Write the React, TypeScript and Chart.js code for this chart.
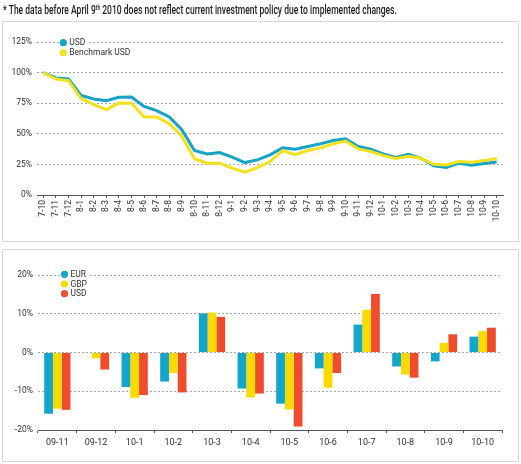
import React, { useEffect, useRef } from "react";
import { Chart, registerables } from "chart.js";
Chart.register(...registerables);

const FONT = "Roboto, 'Liberation Sans', sans-serif";

// ---- Top line chart data ----
const lineLabels = [
  "7-10", "7-11", "7-12",
  "8-1", "8-2", "8-3", "8-4", "8-5", "8-6", "8-7", "8-8", "8-9", "8-10", "8-11", "8-12",
  "9-1", "9-2", "9-3", "9-4", "9-5", "9-6", "9-7", "9-8", "9-9", "9-10", "9-11", "9-12",
  "10-1", "10-2", "10-3", "10-4", "10-5", "10-6", "10-7", "10-8", "10-9", "10-10",
];
const usdLine = [
  100, 95.6, 94.8,
  81.4, 78.4, 77, 79.8, 80, 72.4, 69, 63.7, 53.3, 36.3, 33.6, 34.7,
  30.9, 26.5, 28.7, 32.8, 38.5, 37.4, 39.6, 41.8, 44.5, 46, 39.6, 37.4,
  33.6, 30.6, 33.3, 30, 23.8, 22.4, 26, 24.3, 25.7, 27,
];
const benchmarkLine = [
  100, 94.8, 93.4,
  78.7, 73.8, 69.7, 75.1, 75, 63.7, 63.7, 58.2, 47.8, 29.6, 26, 26,
  21.9, 18.6, 22.4, 27.3, 36.3, 33, 36.3, 38.5, 41.8, 44, 37.7, 35.5,
  32.2, 29.8, 31.7, 30, 25.1, 24.6, 27.3, 26.8, 28.1, 29.8,
];
const lineSeriesNames = ["USD", "Benchmark USD"];
const lineColors = ["#16A3C6", "#F2E11C"];

// ---- Bottom bar chart data ----
const barLabels = ["09-11", "09-12", "10-1", "10-2", "10-3", "10-4", "10-5", "10-6", "10-7", "10-8", "10-9", "10-10"];
const eurBars = [-15.8, 0.1, -8.9, -7.5, 10.1, -9.3, -13.2, -4.1, 7.2, -3.6, -2.3, 4.1];
const gbpBars = [-14.5, -1.5, -11.7, -5.3, 10.3, -11.6, -14.7, -9.1, 11.0, -5.7, 2.5, 5.5];
const usdBars = [-14.8, -4.4, -11.0, -10.3, 9.2, -10.6, -19.1, -5.3, 15.1, -6.5, 4.7, 6.4];
const barSeriesNames = ["EUR", "GBP", "USD"];
const barColors = ["#13A6CA", "#F9DA00", "#EE4C2C"];

const headerText = "* The data before April 9";

function makeLegend(names: string[], colors: string[], dx: number, dy: number, gap: number) {
  return {
    id: "customLegend",
    afterDatasetsDraw(chart: any) {
      const ctx = chart.ctx;
      const a = chart.chartArea;
      ctx.save();
      ctx.font = `8.5px ${FONT}`;
      ctx.textBaseline = "middle";
      names.forEach((label, i) => {
        const cx = a.left + dx;
        const cy = a.top + dy + i * gap;
        const w = ctx.measureText(label).width;
        ctx.fillStyle = "#ffffff";
        ctx.fillRect(cx - 4, cy - 4.5, w + 14, 9);
        ctx.beginPath();
        ctx.arc(cx, cy, 3.6, 0, Math.PI * 2);
        ctx.fillStyle = colors[i];
        ctx.fill();
        ctx.fillStyle = "#333";
        ctx.fillText(label, cx + 6, cy + 0.5);
      });
      ctx.restore();
    },
  };
}

export default function App() {
  const topRef = useRef<HTMLCanvasElement>(null);
  const botRef = useRef<HTMLCanvasElement>(null);
  const headRef = useRef<HTMLDivElement>(null);

  useEffect(() => {
    const h = headRef.current;
    if (h) {
      const w = h.scrollWidth;
      if (w > 0) h.style.transform = `scaleX(${394 / w})`;
    }
    const tickFont = { family: FONT, size: 8.5 };
    const top = new Chart(topRef.current!, {
      type: "line",
      data: {
        labels: lineLabels,
        datasets: [
          {
            label: lineSeriesNames[0],
            data: usdLine,
            borderColor: lineColors[0],
            borderWidth: 3,
            pointRadius: 0,
            tension: 0,
            order: 1,
          },
          {
            label: lineSeriesNames[1],
            data: benchmarkLine,
            borderColor: lineColors[1],
            borderWidth: 3,
            pointRadius: 0,
            tension: 0,
            order: 0,
          },
        ],
      },
      options: {
        responsive: false,
        animation: false,
        layout: { padding: { left: 3, right: 18, top: 42, bottom: 10 } },
        plugins: { legend: { display: false }, tooltip: { enabled: false } },
        scales: {
          x: {
            offset: true,
            grid: { display: true, offset: false, drawOnChartArea: false, drawTicks: true, tickLength: 3, color: "#555" },
            border: { display: true, color: "#555", width: 1 },
            ticks: {
              autoSkip: false,
              maxRotation: 90,
              minRotation: 90,
              padding: 2,
              color: "#333",
              font: tickFont,
            },
            afterFit: (s: any) => {
              s.height = 40;
            },
          },
          y: {
            min: 0,
            max: 125,
            ticks: {
              stepSize: 25,
              padding: 5,
              color: "#333",
              font: tickFont,
              callback: (v: any) => v + "%",
            },
            grid: { color: "#a8a8a8", drawTicks: false, lineWidth: 1 },
            border: { display: false, dash: [2, 2] },
            afterFit: (s: any) => {
              s.width = 34;
            },
          },
        },
      },
      plugins: [makeLegend(lineSeriesNames, lineColors, 26.3, 0.7, 10)],
    } as any);

    const bot = new Chart(botRef.current!, {
      type: "bar",
      data: {
        labels: barLabels,
        datasets: [
          { label: barSeriesNames[0], data: eurBars, backgroundColor: barColors[0] },
          { label: barSeriesNames[1], data: gbpBars, backgroundColor: barColors[1] },
          { label: barSeriesNames[2], data: usdBars, backgroundColor: barColors[2] },
        ],
      },
      options: {
        responsive: false,
        animation: false,
        layout: { padding: { left: 3, right: 19, top: 30, bottom: 14 } },
        plugins: { legend: { display: false }, tooltip: { enabled: false } },
        datasets: { bar: { categoryPercentage: 0.68, barPercentage: 1.0 } },
        scales: {
          x: {
            grid: { display: true, offset: true, drawOnChartArea: false, drawTicks: true, tickLength: 3, color: "#555" },
            border: { display: true, color: "#555", width: 1 },
            ticks: { padding: 4, color: "#333", font: { family: FONT, size: 9 }, maxRotation: 0 },
            afterFit: (s: any) => {
              s.height = 20;
            },
          },
          y: {
            min: -20,
            max: 20,
            ticks: {
              stepSize: 10,
              padding: 5,
              color: "#333",
              font: tickFont,
              callback: (v: any) => v + "%",
            },
            grid: { color: "#a8a8a8", drawTicks: false, lineWidth: 1 },
            border: { display: false, dash: [2, 2] },
            afterFit: (s: any) => {
              s.width = 35;
            },
          },
        },
      },
      plugins: [makeLegend(barSeriesNames, barColors, 26.5, -0.7, 9.7)],
    } as any);

    return () => {
      top.destroy();
      bot.destroy();
    };
  }, []);

  const boxStyle: React.CSSProperties = {
    position: "absolute",
    left: 2,
    width: 517,
    border: "1px solid #d8d8d8",
    boxSizing: "border-box",
    background: "#fff",
  };

  return (
    <div style={{ position: "absolute", left: 0, top: 0, width: 521, height: 464, background: "#fff", overflow: "hidden" }}>
      <div style={{ ...boxStyle, top: 21, height: 221 }} />
      <div style={{ ...boxStyle, top: 249, height: 213 }} />
      <canvas ref={topRef} width={521} height={245} style={{ position: "absolute", left: 0, top: 0 }} />
      <canvas ref={botRef} width={521} height={219} style={{ position: "absolute", left: 0, top: 245 }} />
      <div
        ref={headRef}
        style={{
          position: "absolute",
          left: 3,
          top: 3,
          fontFamily: FONT,
          fontSize: 12,
          fontWeight: 500,
          color: "#222",
          whiteSpace: "nowrap",
          lineHeight: "14px",
          transformOrigin: "0 0",
          display: "inline-block",
        }}
      >
        {headerText}
        <sup style={{ fontSize: 7, verticalAlign: "top", position: "relative", top: -2 }}>th</sup>
        {" 2010 does not reflect current investment policy due to implemented changes."}
      </div>
    </div>
  );
}
